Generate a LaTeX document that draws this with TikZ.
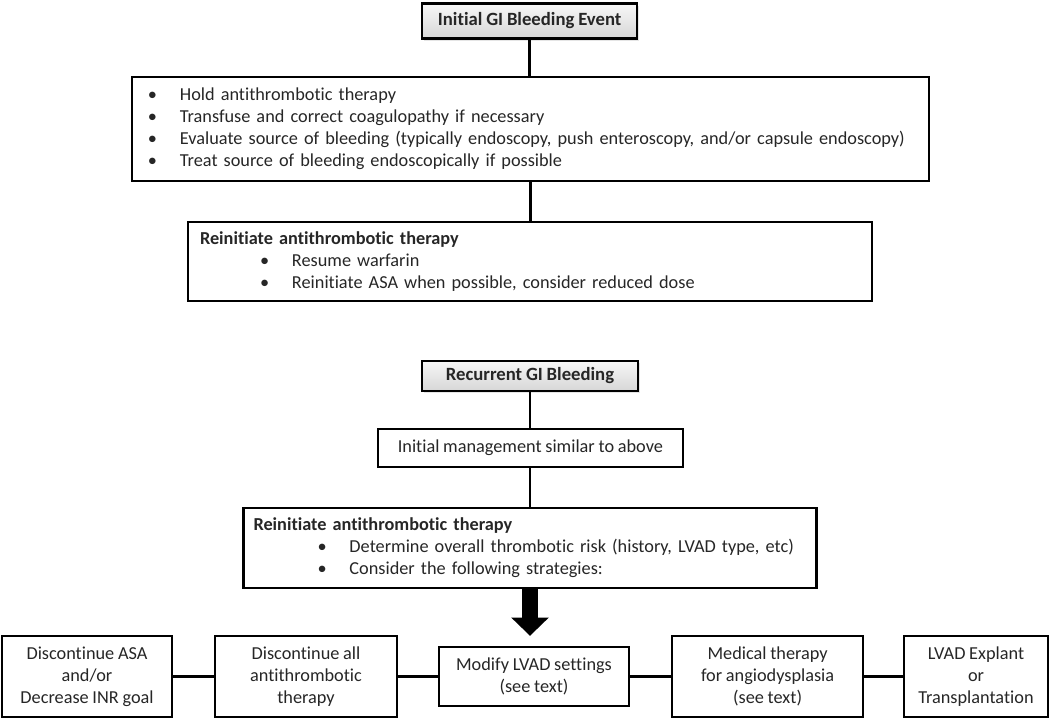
\documentclass[tikz,border=0pt]{standalone}
\usepackage{fontspec}
\setmainfont{Carlito}[Ligatures=NoCommon, WordSpace=0.9]
\usetikzlibrary{arrows.meta, shadows}
\newcommand{\bul}[1]{\makebox[0.8cm][l]{\textbullet}\mbox{#1}}

\begin{document}
\begin{tikzpicture}[font=\fontsize{13}{15.6}\selectfont,
	box/.style={draw, line width=1.8pt, text=black!85, inner sep=0pt, align=center},
	head/.style={box, top color=gray!6, bottom color=gray!32, font=\fontsize{13.3}{15.6}\selectfont\bfseries,
		drop shadow={shadow xshift=1.5pt, shadow yshift=-1.5pt, fill=gray!40}},
	listbox/.style={box, align=left, inner xsep=0.4cm},
	link/.style={line width=1.8pt}]
			\useasboundingbox (0,0) rectangle (26.25,-18);

			% First bleeding event
			\node[head, minimum width=5.375cm, minimum height=0.875cm] (first) at (13.24,-0.525) {Initial GI Bleeding Event};

			\node[listbox, text width=19.125cm, minimum height=2.6cm] (hold) at (13.26,-3.225)
				{\bul{Hold antithrombotic therapy}\\
				 \bul{Transfuse and correct coagulopathy if necessary}\\
				 \bul{Evaluate source of bleeding (typically endoscopy, push enteroscopy, and/or capsule endoscopy)}\\
				 \bul{Treat source of bleeding endoscopically if possible}};

			\node[listbox, inner xsep=0.3cm, text width=16.5cm, minimum height=1.975cm] (resume) at (13.25,-6.54)
				{\textbf{Reinitiate antithrombotic therapy}\\
				 \hspace*{1.5cm}\bul{Resume warfarin}\\
				 \hspace*{1.5cm}\bul{Reinitiate ASA when possible, consider reduced dose}};

			\draw[link] (first.south) -- (first.south |- hold.north);
			\draw[link] (hold.south) -- (hold.south |- resume.north);

			% Recurrent bleeding
			\node[head, minimum width=5.4cm, minimum height=0.75cm] (recur) at (13.25,-9.4) {Recurrent GI Bleeding};

			\node[box, minimum width=7.625cm, minimum height=0.95cm] (manage) at (13.26,-11.2) {Initial management similar to above};

			\node[listbox, inner xsep=0.25cm, text width=13.825cm, minimum height=2cm] (redo) at (13.25,-13.7)
				{\textbf{Reinitiate antithrombotic therapy}\\
				 \hspace*{1.6cm}\bul{Determine overall thrombotic risk (history, LVAD type, etc)}\\
				 \hspace*{1.6cm}\bul{Consider the following strategies:}};

			\draw[link] (recur.south) -- (recur.south |- manage.north);
			\draw[link] (manage.south -| recur.south) -- (recur.south |- redo.north);

			% Strategies
			\node[box, minimum width=4.25cm, minimum height=2.025cm] (asa) at (2.175,-16.91) {Discontinue ASA\\and/or\\Decrease INR goal};
			\node[box, minimum width=4.55cm, minimum height=2.025cm] (all) at (7.65,-16.91) {Discontinue all\\antithrombotic\\therapy};
			\node[box, minimum width=4.75cm, minimum height=1.475cm] (modify) at (13.35,-16.91) {Modify LVAD settings\\(see text)};
			\node[box, minimum width=4.775cm, minimum height=2.025cm] (medical) at (19.19,-16.91) {Medical therapy\\for angiodysplasia\\(see text)};
			\node[box, minimum width=3.6cm, minimum height=2.025cm] (explant) at (24.4,-16.91) {LVAD Explant\\or\\Transplantation};

			\draw[link] (asa) -- (all);
			\draw[link] (all) -- (modify);
			\draw[link] (modify) -- (medical);
			\draw[link] (medical) -- (explant);

			% Big arrow down to the strategies
			\draw[line width=12pt, -{Triangle[length=13pt, width=26pt]}, shorten >=7pt] (redo.south) -- (redo.south |- modify.north);

		\end{tikzpicture}
\end{document}
